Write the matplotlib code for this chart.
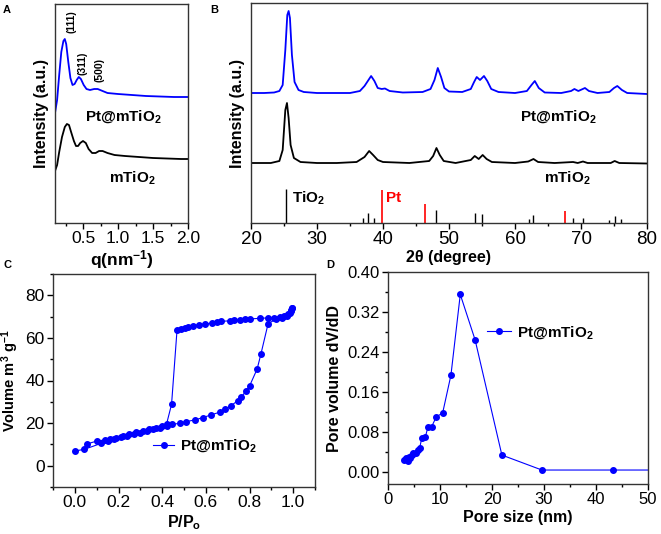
import numpy as np
import matplotlib
matplotlib.use("Agg")
import matplotlib.pyplot as plt
from matplotlib.ticker import MultipleLocator, FormatStrFormatter

plt.rcParams['font.family'] = ['Liberation Sans', 'DejaVu Sans']
plt.rcParams['mathtext.default'] = 'regular'
plt.rcParams['xtick.direction'] = 'out'
plt.rcParams['ytick.direction'] = 'out'

BLUE = '#0000ff'

# A: SAXS curves (q in nm^-1, intensity a.u.)
saxs_q_pt = [0.10, 0.13, 0.16, 0.19, 0.22, 0.24, 0.26, 0.29, 0.32, 0.35, 0.38, 0.41, 0.44,
             0.47, 0.51, 0.55, 0.60, 0.66, 0.71, 0.78, 0.85, 1.0, 1.2, 1.4, 1.6, 1.8, 2.0]
saxs_i_pt = [110, 123, 148, 171, 182, 184, 179, 161, 145, 138, 139, 143, 146,
             144, 138, 134, 133, 134, 134, 132, 130, 129, 128, 127, 126.5, 126, 126]
saxs_q_m = [0.10, 0.13, 0.16, 0.20, 0.24, 0.27, 0.30, 0.33, 0.37, 0.40, 0.43, 0.46, 0.50,
            0.54, 0.58, 0.63, 0.68, 0.73, 0.78, 0.85, 0.95, 1.1, 1.3, 1.5, 1.7, 1.9, 2.0]
saxs_i_m = [52, 58, 71, 86, 96, 99, 98, 91, 82, 77, 77, 80, 82,
            80, 74, 70, 70, 72, 72, 70, 68, 67, 66, 65, 64.5, 64, 64]

# B: XRD patterns (2theta in degree, intensity a.u.)
xrd_t_pt = [20, 22, 23.5, 24.3, 24.8, 25.2, 25.5, 25.7, 25.9, 26.2, 26.6, 27.2, 28, 30, 33, 35,
            36.5, 37.2, 37.7, 38.2, 38.7, 39.2, 39.8, 40.3, 41, 43, 46, 47.2, 47.8, 48.3, 48.8,
            49.3, 50, 52, 53.3, 53.8, 54.2, 54.7, 55.3, 55.8, 56.4, 57.5, 60, 61.8, 62.5, 63,
            63.6, 64.5, 67, 68.5, 69.0, 69.6, 70.6, 71.2, 72.5, 74.3, 75.0, 75.5, 76.2, 77, 80]
xrd_i_pt = [130, 130, 130.5, 132, 138, 173, 208, 212, 205, 168, 141, 133, 131, 130, 130, 130,
            132, 137, 142, 147, 142, 135, 134, 134.5, 132, 130.5, 131, 134, 143, 155, 146,
            135, 131.5, 131, 134, 141, 146, 143, 147, 142, 134, 131, 130, 132, 138, 142,
            135, 130.5, 130, 132, 134, 132, 135, 132, 130, 131, 135, 137, 133, 130, 129]
xrd_t_m = [20, 23, 24.3, 24.8, 25.2, 25.45, 25.7, 26.0, 26.5, 27.5, 30, 33, 36, 37.2, 37.9,
           38.5, 39.2, 40, 44, 47, 47.6, 48.1, 48.6, 49.2, 51, 53.3, 53.9, 54.5, 55.1, 55.7,
           56.5, 60, 62.0, 62.8, 63.5, 66, 68.8, 69.5, 70.3, 71, 74.5, 75.1, 75.8, 80]
xrd_i_m = [60, 60, 62, 73, 113, 120, 105, 78, 65, 61, 60, 60, 61, 66, 72,
           68, 63, 61, 60, 62, 67, 75, 68, 62, 60, 63, 67, 64, 68, 64,
           61, 60, 61.5, 64, 61, 60, 61, 60, 61.5, 60, 60, 62, 60, 59.5]

# B: reference sticks
tio2_pos = [25.3, 37.0, 37.8, 38.6, 48.0, 53.9, 55.0, 62.1, 62.7, 68.8, 70.3, 74.2, 75.1, 76.0]
tio2_h = [33.7, 5, 9.7, 5, 12.7, 9.7, 8.7, 4, 8.3, 5.3, 5.3, 3.3, 6.7, 4]
pt_pos = [39.9, 46.3, 67.5]
pt_h = [32.7, 18.7, 12]

# C: N2 isotherm
ads_p = [0.000, 0.044, 0.121, 0.15, 0.18, 0.21, 0.24, 0.27, 0.30, 0.33, 0.36, 0.39, 0.42,
         0.445, 0.48, 0.51, 0.55, 0.587, 0.625, 0.663, 0.686, 0.716, 0.747, 0.763, 0.786,
         0.801, 0.835, 0.852, 0.885, 0.92, 0.95, 0.97, 0.985, 0.99, 0.995]
ads_v = [6.9, 7.7, 10.5, 11.8, 12.5, 13.3, 14.0, 14.8, 15.5, 16.2, 17.0, 17.8, 18.6,
         19.4, 19.9, 20.7, 21.5, 22.6, 23.9, 25.1, 26.5, 28.2, 30.6, 32.4, 35.2,
         37.6, 45.4, 52.3, 66.6, 68.8, 69.5, 70.2, 71.5, 73.0, 74.0]
des_p = [0.995, 0.99, 0.975, 0.96, 0.94, 0.91, 0.885, 0.85, 0.80, 0.78, 0.755, 0.73, 0.71,
         0.67, 0.65, 0.63, 0.595, 0.57, 0.54, 0.52, 0.503, 0.488, 0.468, 0.443, 0.42, 0.40,
         0.37, 0.34, 0.31, 0.28, 0.25, 0.22, 0.19, 0.16, 0.136, 0.102, 0.055]
des_v = [74.0, 72.4, 71.0, 70.2, 69.8, 69.5, 69.4, 69.2, 68.9, 68.7, 68.5, 68.3, 68.0,
         67.8, 67.3, 67.0, 66.5, 66.2, 65.7, 65.2, 64.8, 64.2, 63.6, 28.8, 19.5, 18.5,
         17.7, 17.0, 16.3, 15.6, 14.8, 14.0, 13.2, 12.6, 12.1, 11.6, 10.2]

# D: pore size distribution
pore_d = [3.13, 3.5, 3.77, 3.96, 4.3, 4.6, 4.9, 5.4, 5.7, 6.1, 6.5, 7.2, 7.7, 8.4, 9.3,
          10.5, 12.1, 13.9, 16.75, 21.9, 29.6, 43.3, 56.0]
pore_v = [0.0234, 0.027, 0.022, 0.030, 0.028, 0.033, 0.037, 0.038, 0.044, 0.048, 0.067,
          0.070, 0.090, 0.090, 0.110, 0.117, 0.193, 0.355, 0.264, 0.033, 0.003, 0.003, 0.003]

W, H = 661, 534
fig = plt.figure(figsize=(W / 100, H / 100), dpi=100)


def box(l, t, r, b):
    return fig.add_axes([l / W, 1 - b / H, (r - l) / W, (b - t) / H])


def style(ax, size=12):
    for s in ax.spines.values():
        s.set_linewidth(1.0)
        s.set_color('#333333')
    ax.tick_params(which='major', length=4, width=1, labelsize=size, pad=2)
    ax.tick_params(which='minor', length=2, width=1)
    ax.tick_params(top=False, right=False)


lab = dict(fontsize=11.5, fontweight='bold')
txt = dict(fontsize=11, fontweight='bold')

# ---- A
axA = box(55, 4, 188, 223)
axA.plot(saxs_q_pt, saxs_i_pt, color=BLUE, lw=1.3)
axA.plot(saxs_q_m, saxs_i_m, color='black', lw=1.3)
axA.set_xlim(0.1, 2.0)
axA.set_ylim(0, 219)
axA.xaxis.set_major_locator(MultipleLocator(0.5))
axA.xaxis.set_minor_locator(MultipleLocator(0.25))
axA.xaxis.set_major_formatter(FormatStrFormatter('%.1f'))
axA.set_yticks([])
style(axA, 12.5)
axA.set_xlabel('q(nm$^{-1}$)', fontsize=12.5, fontweight='bold', labelpad=1)
axA.set_ylabel('Intensity (a.u.)', labelpad=4, **lab)
axA.text(1.07, 106, 'Pt@mTiO$_2$', ha='center', va='center', **txt)
axA.text(1.21, 45, 'mTiO$_2$', ha='center', va='center', **txt)
for q, y, s in [(0.33, 201, '(111)'), (0.49, 160, '(311)'), (0.74, 153, '(500)')]:
    axA.text(q, y, s, rotation=90, ha='center', va='center', fontsize=7.5, fontweight='bold')

# ---- B
axB = box(251, 3, 647, 223)
axB.plot(xrd_t_pt, xrd_i_pt, color=BLUE, lw=1.3)
axB.plot(xrd_t_m, xrd_i_m, color='black', lw=1.3)
axB.vlines(tio2_pos, 0, tio2_h, color='black', lw=1)
axB.vlines(pt_pos, 0, pt_h, color='red', lw=1.2)
axB.set_xlim(20, 80)
axB.set_ylim(0, 220)
axB.xaxis.set_major_locator(MultipleLocator(10))
axB.xaxis.set_minor_locator(MultipleLocator(5))
axB.set_yticks([])
style(axB, 13.5)
axB.set_xlabel('2θ (degree)', labelpad=1, **lab)
axB.set_ylabel('Intensity (a.u.)', labelpad=4, **lab)
axB.text(66.6, 106, 'Pt@mTiO$_2$', ha='center', va='center', **txt)
axB.text(67.9, 45, 'mTiO$_2$', ha='center', va='center', **txt)
axB.text(26.2, 25, 'TiO$_2$', ha='left', va='center', **txt)
axB.text(40.4, 25, 'Pt', ha='left', va='center', color='red', **txt)

# ---- C
axC = box(53, 274, 315, 487)
axC.plot(ads_p, ads_v, color=BLUE, lw=0.8, marker='o', ms=4, label='Pt@mTiO$_2$')
axC.plot(des_p, des_v, color=BLUE, lw=0.8, marker='o', ms=4)
axC.set_xlim(-0.1, 1.1)
axC.set_ylim(-10, 90)
axC.xaxis.set_major_locator(MultipleLocator(0.2))
axC.xaxis.set_minor_locator(MultipleLocator(0.1))
axC.xaxis.set_major_formatter(FormatStrFormatter('%.1f'))
axC.yaxis.set_major_locator(MultipleLocator(20))
axC.yaxis.set_minor_locator(MultipleLocator(10))
style(axC, 12.5)
axC.set_xlabel('P/P$_o$', labelpad=2, **lab)
axC.set_ylabel('Volume m$^3$ g$^{-1}$', labelpad=3, fontsize=10.5, fontweight='bold')
axC.legend(loc='center left', bbox_to_anchor=((153 - 53) / 262, (487 - 446) / 213),
           frameon=False, borderpad=0, borderaxespad=0, handlelength=1.4,
           handletextpad=0.35, prop=dict(size=11, weight='bold'))

# ---- D
axD = box(388, 272, 648, 484)
axD.plot(pore_d, pore_v, color=BLUE, lw=0.8, marker='o', ms=4, label='Pt@mTiO$_2$')
axD.set_xlim(0, 50)
axD.set_ylim(-0.025, 0.40)
axD.xaxis.set_major_locator(MultipleLocator(10))
axD.xaxis.set_minor_locator(MultipleLocator(5))
axD.yaxis.set_major_locator(MultipleLocator(0.08))
axD.yaxis.set_minor_locator(MultipleLocator(0.04))
axD.yaxis.set_major_formatter(FormatStrFormatter('%.2f'))
style(axD, 12)
axD.set_xlabel('Pore size (nm)', labelpad=2, **lab)
axD.set_ylabel('Pore volume dV/dD', labelpad=4, **lab)
axD.legend(loc='center left', bbox_to_anchor=((487 - 388) / 260, (484 - 332.7) / 212),
           frameon=False, borderpad=0, borderaxespad=0, handlelength=1.6,
           handletextpad=0.35, prop=dict(size=11, weight='bold'))

for x, y, s in [(3, 10, 'A'), (210, 10, 'B'), (4, 265, 'C'), (326, 265, 'D')]:
    fig.text(x / W, 1 - y / H, s, fontsize=8, fontweight='bold', va='center')

fig.savefig('out.png', dpi=100)
